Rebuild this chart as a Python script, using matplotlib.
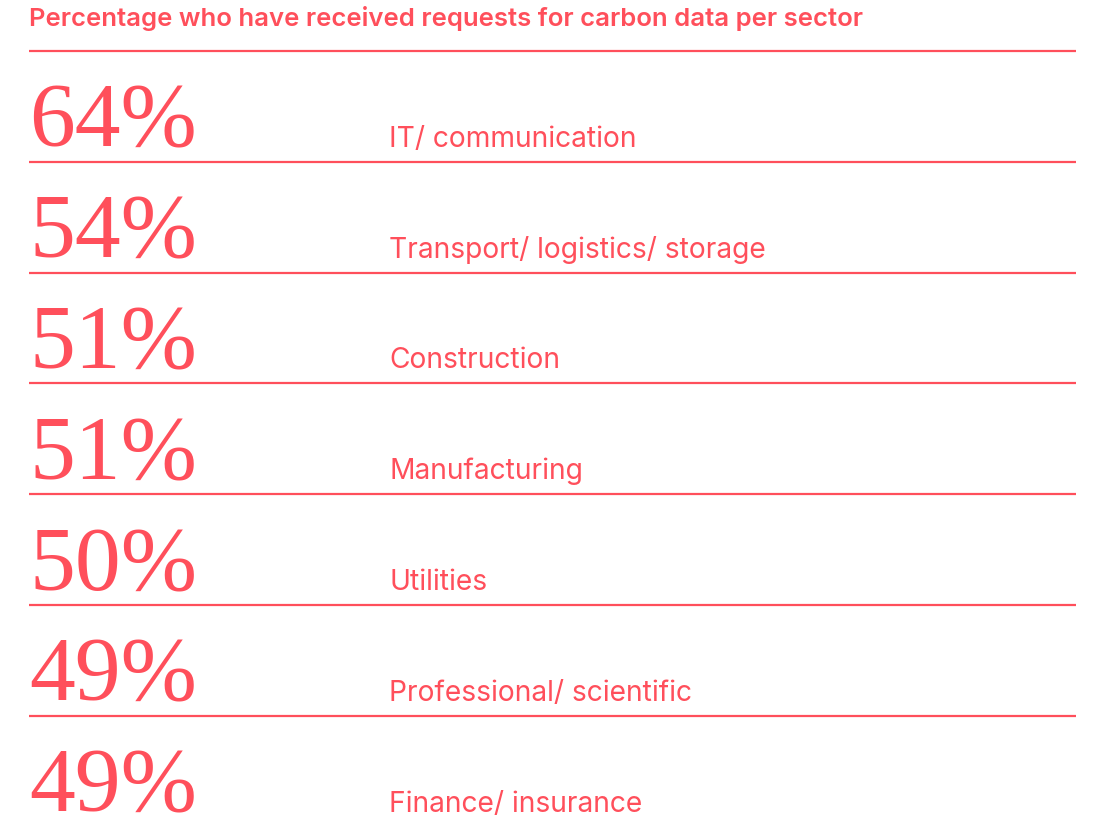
import matplotlib.pyplot as plt

# Datos
sectores = ["IT/ communication", "Transport/ logistics/ storage", "Construction",
            "Manufacturing", "Utilities", "Professional/ scientific",
            "Finance/ insurance"]
porcentajes = [64, 54, 51, 51, 50, 49, 49]
titulo = "Percentage who have received requests for carbon data per sector"

ROJO = "#FF4F5B"

fig = plt.figure(figsize=(10.94, 8.22), dpi=100)
ax = fig.add_axes([0, 0, 1, 1])
ax.set_xlim(0, 1094)
ax.set_ylim(822, 0)
ax.axis("off")

# Geometría de las filas (en píxeles)
y0 = 51
paso = 110.8
x_izq, x_der = 29, 1076
x_label = 389

ax.text(x_izq, 26, titulo, color=ROJO, fontsize=18.5, fontweight="semibold",
        family=["Inter", "DejaVu Sans"], va="baseline", ha="left")

for i, (sector, pct) in enumerate(zip(sectores, porcentajes)):
    top = y0 + i * paso
    ax.hlines(top, x_izq, x_der, color=ROJO, lw=1.6)
    base = top + paso
    ax.text(x_izq, base - 15, f"{pct}%", color=ROJO, fontsize=66,
            family=["Liberation Serif", "DejaVu Serif"], va="baseline", ha="left")
    ax.text(x_label, base - 15, sector, color=ROJO, fontsize=20.3,
            family=["Inter", "DejaVu Sans"], va="baseline", ha="left")

plt.savefig("out.png", dpi=100)
